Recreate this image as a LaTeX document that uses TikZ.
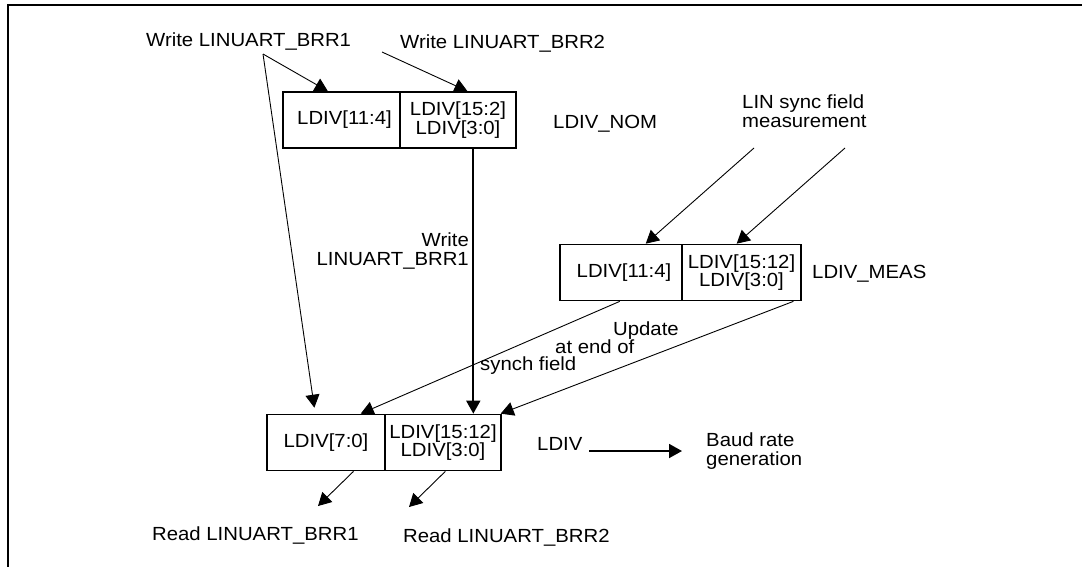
\documentclass[tikz,border=0pt]{standalone}
\usepackage{fontspec}
\setmainfont{Liberation Sans}[FakeStretch=1.07]
\usetikzlibrary{arrows.meta,calc}
\tikzset{
  cell/.style={draw, line width=1.7pt, minimum height=56pt, inner sep=0pt, align=center,
               font=\fontsize{19}{16.8}\selectfont},
  lbl/.style={inner sep=0pt, font=\fontsize{19}{18.5}\selectfont},
  arr/.style={line width=0.9pt, -{Triangle[length=13pt,width=14pt]}},
  thickarr/.style={line width=1.8pt, -{Triangle[length=13pt,width=14pt]}},
  frame/.style={line width=2pt}
}
\begin{document}
\begin{tikzpicture}[x=1pt,y=-1pt]
\useasboundingbox (0,0) rectangle (1082,566);
\draw[frame] (8,567) -- (8,4.5) -- (1083,4.5);

% registers
\node[cell, minimum width=117pt] (nomL) at (341.5,120) {\hspace*{6pt}LDIV[11:4]};
\node[cell, minimum width=116pt] (nomR) at (458,120) {LDIV[15:2]\\LDIV[3:0]};
\node[cell, minimum width=122pt] (measL) at (621,272.5) {\hspace*{6pt}LDIV[11:4]};
\node[cell, minimum width=119pt] (measR) at (741.5,272.5) {LDIV[15:12]\\LDIV[3:0]};
\node[cell, minimum width=118pt] (botL) at (326,442.5) {LDIV[7:0]};
\node[cell, minimum width=116pt] (botR) at (443,442.5) {LDIV[15:12]\\LDIV[3:0]};

% labels
\node[lbl, anchor=base west] (w1) at (146,46) {Write LINUART\_BRR1};
\node[lbl, anchor=base west] (w2) at (400,48) {Write LINUART\_BRR2};
\node[lbl, anchor=base west] (nom) at (553,128) {LDIV\_NOM};
\node[lbl, anchor=west, align=left] (lin) at (742,111) {LIN sync field\\measurement};
\node[lbl, anchor=east, align=right] (wr) at (469,251) {Write\\LINUART\_BRR1};
\node[lbl, anchor=base west] (meas) at (812,278) {LDIV\_MEAS};
\node[lbl, anchor=base west] (up1) at (613,335) {Update};
\node[lbl, anchor=base west] (up2) at (555,353) {at end of};
\node[lbl, anchor=base west] (up3) at (480,370) {synch field};
\node[lbl, anchor=base west] (ldiv) at (537,450) {LDIV};
\node[lbl, anchor=west, align=left] (baud) at (706,451) {Baud rate\\generation};
\node[lbl, anchor=base west] (rd1) at (152,540) {Read LINUART\_BRR1};
\node[lbl, anchor=base west] (rd2) at (403,542) {Read LINUART\_BRR2};

% free ends
\coordinate (w1o) at (263,54);
\coordinate (w2o) at (382,52);
\coordinate (lin1o) at (754,148);
\coordinate (lin2o) at (845,148);
\coordinate (rd1o) at (318,506);
\coordinate (rd2o) at (409,507);
\coordinate (bauds) at (589,451);
\coordinate (baude) at (682,451);

% connectors
\draw[arr] (w1o) -- ($(nomL.north west)!0.385!(nomL.north east)$);
\draw[arr, shorten >=6pt] (w1o) -- ($(botL.north west)!0.41!(botL.north east)$);
\draw[arr] (w2o) -- ($(nomR.north west)!0.58!(nomR.north east)$);
\coordinate (nomout) at ($(nomR.south west)!0.63!(nomR.south east)$);
\draw[thickarr] (nomout) -- (nomout |- botR.north);
\draw[arr] (lin1o) -- ($(measL.north west)!0.70!(measL.north east)$);
\draw[arr] (lin2o) -- ($(measR.north west)!0.46!(measR.north east)$);
\draw[arr] ($(measL.south west)!0.49!(measL.south east)$) -- ($(botL.north west)!0.79!(botL.north east)$);
\draw[arr] ($(measR.south west)!0.93!(measR.south east)$) -- ($(botR.north west)!0.99!(botR.north east)$);
\draw[arr] ($(botL.south west)!0.73!(botL.south east)$) -- (rd1o);
\draw[arr] ($(botR.south west)!0.52!(botR.south east)$) -- (rd2o);
\draw[thickarr] (bauds) -- (baude);
\end{tikzpicture}
\end{document}
